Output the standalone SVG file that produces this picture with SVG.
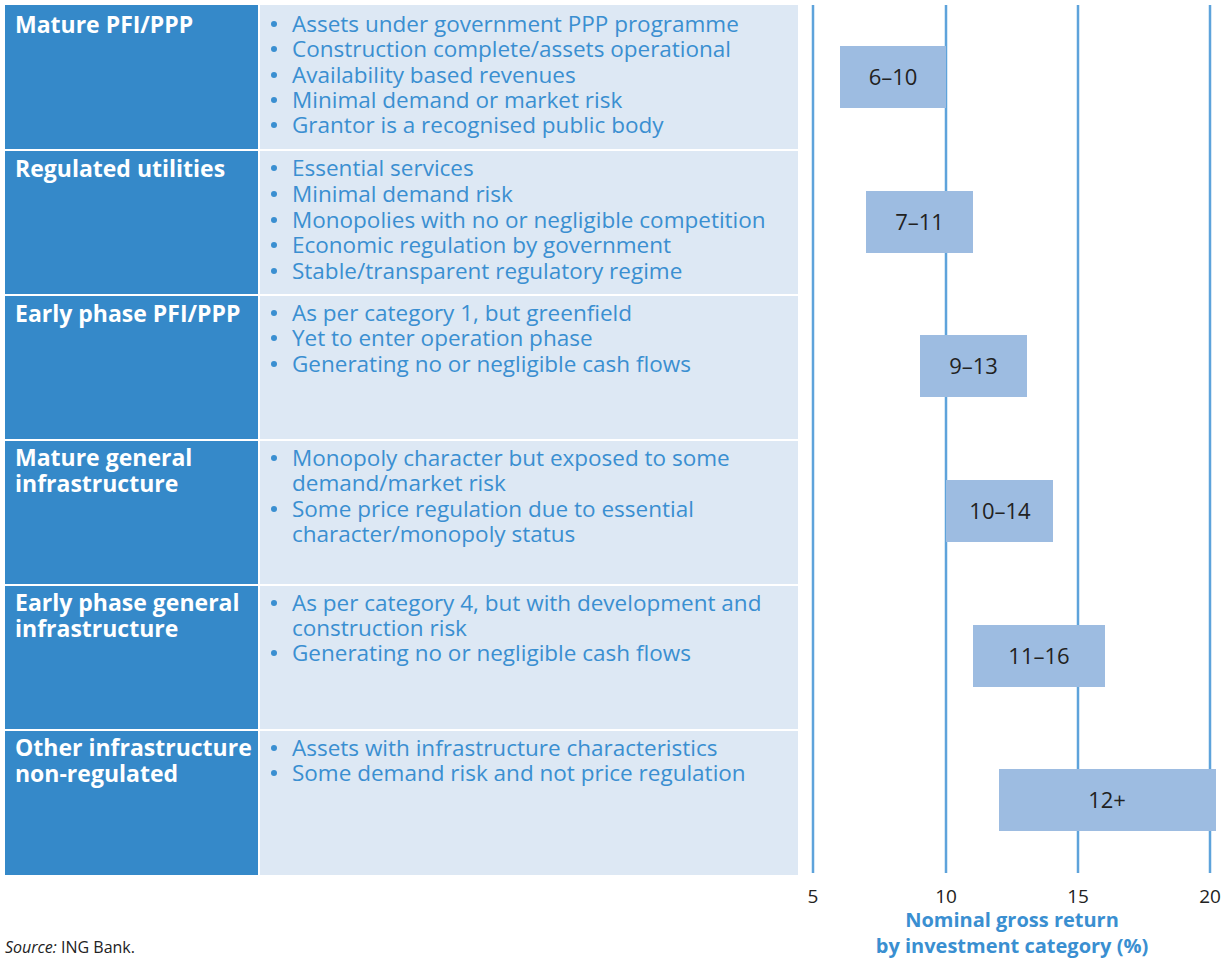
<svg xmlns="http://www.w3.org/2000/svg" width="1230" height="959" viewBox="0 0 1230 959">
<style>
.hd{fill:#3589c9}
.bd{fill:#dde8f4}
.ht{font-family:"Open Sans","Liberation Sans",sans-serif;font-weight:bold;font-size:23px;fill:#ffffff}
.bt{font-family:"Open Sans","Liberation Sans",sans-serif;font-size:22.5px;fill:#3a8fd1}
.dot{fill:#3a8fd1}
.bar{fill:#9dbce1}
.bl{font-family:"Open Sans","Liberation Sans",sans-serif;font-size:22px;fill:#222222;text-anchor:middle}
.grid{stroke:#5ea3db;stroke-width:2.5}
.ax{font-family:"Open Sans","Liberation Sans",sans-serif;font-size:19px;fill:#222222;text-anchor:middle}
.at{font-family:"Open Sans","Liberation Sans",sans-serif;font-weight:bold;font-size:20px;fill:#3a8fd1;text-anchor:middle}
.src{font-family:"Open Sans","Liberation Sans",sans-serif;font-size:16px;fill:#222222}
</style>
<defs><circle id="b" r="3" class="dot"/></defs>
<rect width="1230" height="959" fill="#ffffff"/>
<g id="grid">
<line class="grid" x1="813" y1="5" x2="813" y2="873"/>
<line class="grid" x1="946" y1="5" x2="946" y2="873"/>
<line class="grid" x1="1078" y1="5" x2="1078" y2="873"/>
<line class="grid" x1="1210" y1="5" x2="1210" y2="873"/>
</g>
<g id="row1">
<rect class="hd" x="5" y="5" width="253" height="144"/>
<rect class="bd" x="260" y="5" width="538" height="144"/>
<text class="ht" x="15" y="33">Mature PFI/PPP</text>
<use href="#b" x="274" y="24"/><use href="#b" x="274" y="49"/><use href="#b" x="274" y="75"/><use href="#b" x="274" y="100"/><use href="#b" x="274" y="125"/>
<text class="bt"><tspan x="292" y="32">Assets under government PPP programme</tspan><tspan x="292" y="57">Construction complete/assets operational</tspan><tspan x="292" y="83">Availability based revenues</tspan><tspan x="292" y="108">Minimal demand or market risk</tspan><tspan x="292" y="133">Grantor is a recognised public body</tspan></text>
</g>
<g id="row2">
<rect class="hd" x="5" y="151" width="253" height="143"/>
<rect class="bd" x="260" y="151" width="538" height="143"/>
<text class="ht" x="15" y="177">Regulated utilities</text>
<use href="#b" x="274" y="168"/><use href="#b" x="274" y="194"/><use href="#b" x="274" y="220"/><use href="#b" x="274" y="245"/><use href="#b" x="274" y="271"/>
<text class="bt"><tspan x="292" y="176">Essential services</tspan><tspan x="292" y="202">Minimal demand risk</tspan><tspan x="292" y="228">Monopolies with no or negligible competition</tspan><tspan x="292" y="253">Economic regulation by government</tspan><tspan x="292" y="279">Stable/transparent regulatory regime</tspan></text>
</g>
<g id="row3">
<rect class="hd" x="5" y="296" width="253" height="143"/>
<rect class="bd" x="260" y="296" width="538" height="143"/>
<text class="ht" x="15" y="322">Early phase PFI/PPP</text>
<use href="#b" x="274" y="313"/><use href="#b" x="274" y="338"/><use href="#b" x="274" y="364"/>
<text class="bt"><tspan x="292" y="321">As per category 1, but greenfield</tspan><tspan x="292" y="346">Yet to enter operation phase</tspan><tspan x="292" y="372">Generating no or negligible cash flows</tspan></text>
</g>
<g id="row4">
<rect class="hd" x="5" y="441" width="253" height="143"/>
<rect class="bd" x="260" y="441" width="538" height="143"/>
<text class="ht"><tspan x="15" y="466">Mature general</tspan><tspan x="15" y="492">infrastructure</tspan></text>
<use href="#b" x="274" y="458"/><use href="#b" x="274" y="509"/>
<text class="bt"><tspan x="292" y="466">Monopoly character but exposed to some</tspan><tspan x="292" y="491">demand/market risk</tspan><tspan x="292" y="517">Some price regulation due to essential</tspan><tspan x="292" y="542">character/monopoly status</tspan></text>
</g>
<g id="row5">
<rect class="hd" x="5" y="586" width="253" height="143"/>
<rect class="bd" x="260" y="586" width="538" height="143"/>
<text class="ht"><tspan x="15" y="611">Early phase general</tspan><tspan x="15" y="637">infrastructure</tspan></text>
<use href="#b" x="274" y="603"/><use href="#b" x="274" y="653"/>
<text class="bt"><tspan x="292" y="611">As per category 4, but with development and</tspan><tspan x="292" y="636">construction risk</tspan><tspan x="292" y="661">Generating no or negligible cash flows</tspan></text>
</g>
<g id="row6">
<rect class="hd" x="5" y="731" width="253" height="144"/>
<rect class="bd" x="260" y="731" width="538" height="144"/>
<text class="ht"><tspan x="15" y="756">Other infrastructure</tspan><tspan x="15" y="782">non-regulated</tspan></text>
<use href="#b" x="274" y="748"/><use href="#b" x="274" y="773"/>
<text class="bt"><tspan x="292" y="756">Assets with infrastructure characteristics</tspan><tspan x="292" y="781">Some demand risk and not price regulation</tspan></text>
</g>
<g id="bars">
<g id="bar1"><rect class="bar" x="840" y="46" width="106" height="62"/><text class="bl" x="893" y="85">6–10</text></g>
<g id="bar2"><rect class="bar" x="866" y="191" width="107" height="62"/><text class="bl" x="919.5" y="230">7–11</text></g>
<g id="bar3"><rect class="bar" x="920" y="335" width="107" height="62"/><text class="bl" x="973.5" y="374">9–13</text></g>
<g id="bar4"><rect class="bar" x="946" y="480" width="107" height="62"/><text class="bl" x="1000" y="519">10–14</text></g>
<g id="bar5"><rect class="bar" x="973" y="625" width="132" height="62"/><text class="bl" x="1039" y="664">11–16</text></g>
<g id="bar6"><rect class="bar" x="999" y="769" width="217" height="62"/><text class="bl" x="1107" y="808">12+</text></g>
</g>
<g id="axis">
<text class="ax" x="813" y="903">5</text>
<text class="ax" x="946" y="903">10</text>
<text class="ax" x="1078" y="903">15</text>
<text class="ax" x="1210" y="903">20</text>
<text class="at"><tspan x="1012" y="927">Nominal gross return</tspan><tspan x="1012" y="953">by investment category (%)</tspan></text>
</g>
<text class="src" x="5" y="953"><tspan font-style="italic">Source:</tspan> ING Bank.</text>
</svg>
